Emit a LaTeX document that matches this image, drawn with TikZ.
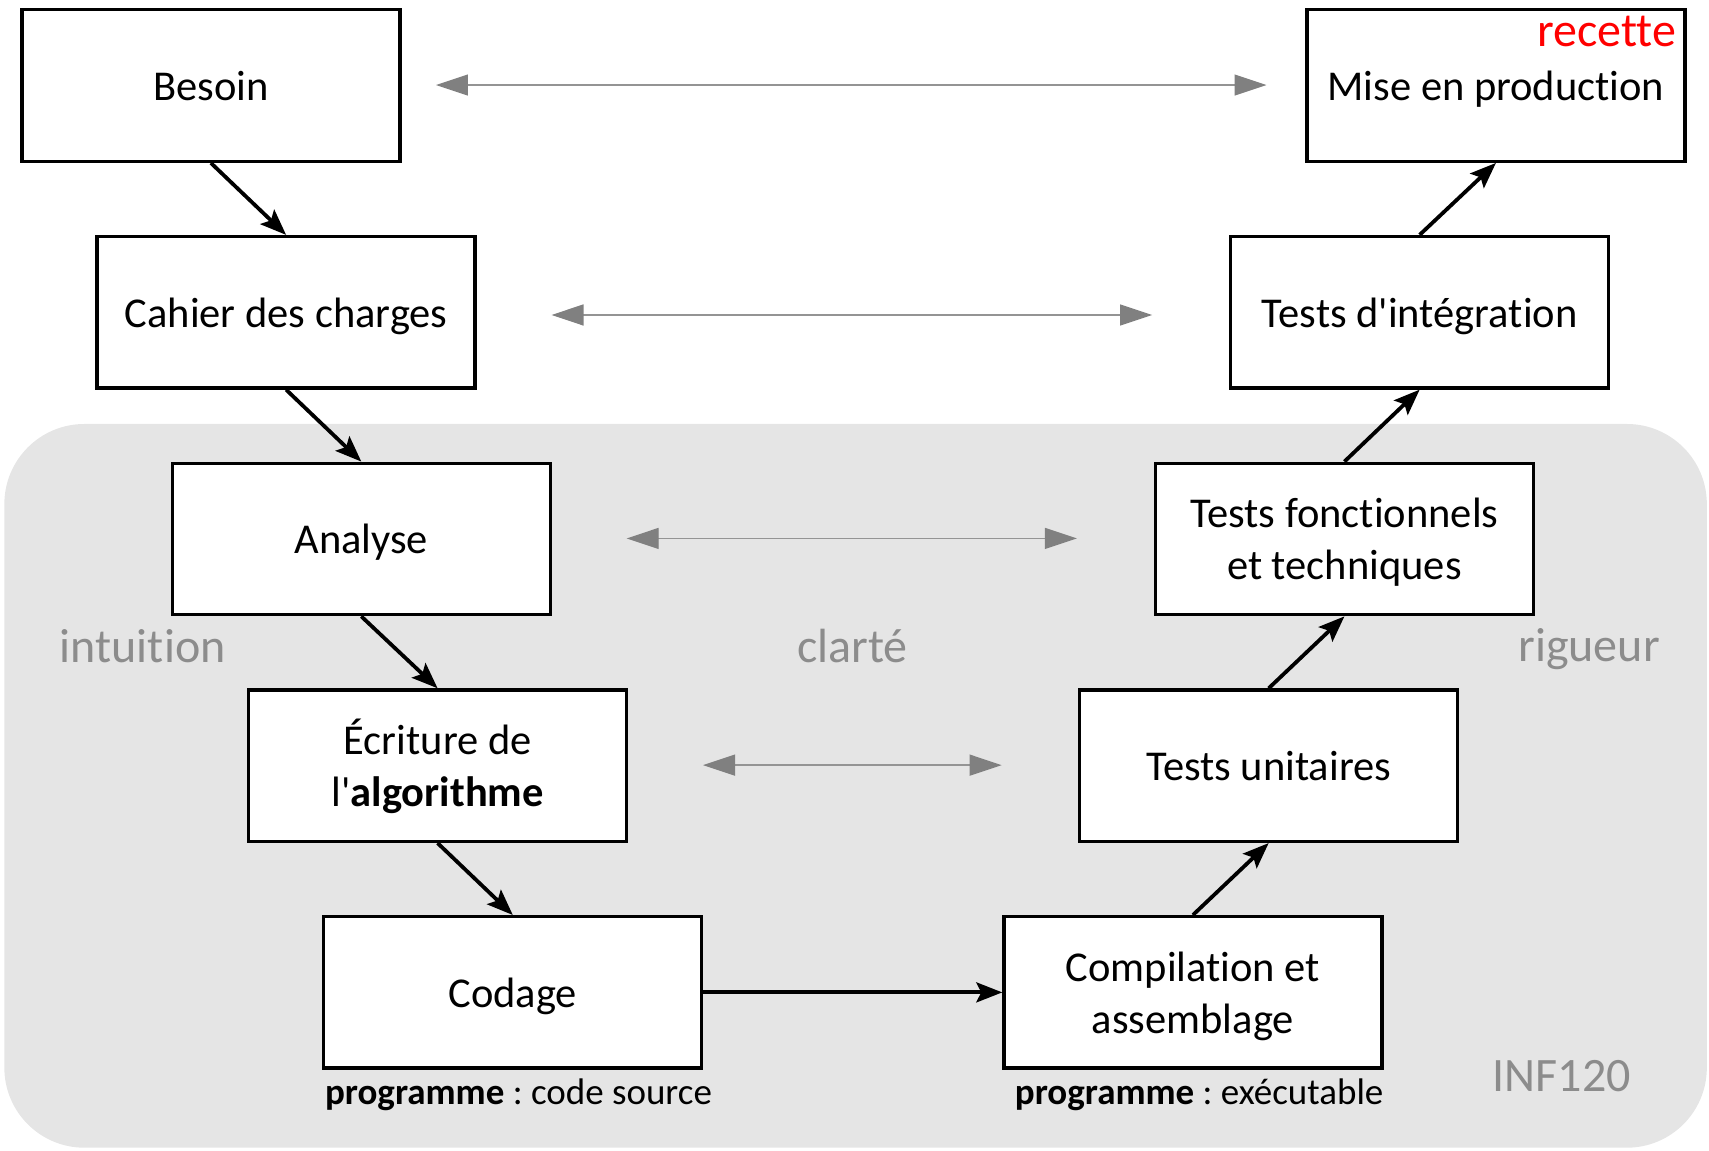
\documentclass[tikz,border=0pt]{standalone}
\usepackage{fontspec}
\setmainfont{Carlito}[Ligatures={TeX,NoCommon}]
\usetikzlibrary{arrows.meta,positioning}
\frenchspacing
\begin{document}
\begin{tikzpicture}[x=1.09pt,y=-1.09pt,
  stagebox/.style={draw=black,line width=3.3pt,fill=white,minimum width=378pt,minimum height=151.5pt,
    align=center,font=\fontsize{42.5}{52}\selectfont,inner sep=0pt,text height=30pt,text depth=0pt},
  twoline/.style={text height=82pt,text depth=0pt},
  flow/.style={line width=3.8pt,-{Stealth[length=26pt,width=20pt,inset=5pt]}},
  link/.style={draw=black!42,line width=1.3pt,{Triangle[length=32pt,width=21pt,color=black!50]}-{Triangle[length=32pt,width=21pt,color=black!50]}},
  graylabel/.style={text=black!45,font=\fontsize{48}{56}\selectfont},
  sublabel/.style={anchor=west,font=\fontsize{37}{44}\selectfont,inner sep=0pt}
]
\useasboundingbox (0,0) rectangle (1568,1056);
\fill[black!10,rounded corners=80pt] (4,389) rectangle (1566,1053);

\node[stagebox] (besoin) at (193.5,78.5) {Besoin};
\node[stagebox] (cahier) at (262.5,286.5) {Cahier des charges};
\node[stagebox] (analyse) at (331.5,494.5) {Analyse};
\node[stagebox,twoline] (ecriture) at (401.5,702.5) {Écriture de\\l\textquotesingle\textbf{algorithme}};
\node[stagebox] (codage) at (470.5,910.5) {Codage};
\node[stagebox,twoline] (compil) at (1094.5,910.5) {Compilation et\\assemblage};
\node[stagebox] (unit) at (1164,702.5) {Tests unitaires};
\node[stagebox,twoline] (fonc) at (1233.5,494.5) {Tests fonctionnels\\et techniques};
\node[stagebox] (integ) at (1302.5,286.5) {Tests d\textquotesingle intégration};
\node[stagebox] (mise) at (1372.5,78.5) {Mise en production};
\node[anchor=north east,inner sep=0pt,text=red,font=\fontsize{48}{56}\selectfont] (recette) at (1538,15) {recette};

\draw[flow] (besoin.south) -- (cahier.north);
\draw[flow] (cahier.south) -- (analyse.north);
\draw[flow] (analyse.south) -- (ecriture.north);
\draw[flow] (ecriture.south) -- (codage.north);
\draw[flow] (codage.east) -- (compil.west);
\draw[flow] (compil.north) -- (unit.south);
\draw[flow] (unit.north) -- (fonc.south);
\draw[flow] (fonc.north) -- (integ.south);
\draw[flow] (integ.north) -- (mise.south);

\coordinate (l1a) at (400,78);  \coordinate (l1b) at (1162,78);
\coordinate (l2a) at (506,289); \coordinate (l2b) at (1057,289);
\coordinate (l3a) at (575,494); \coordinate (l3b) at (988,494);
\coordinate (l4a) at (645,702); \coordinate (l4b) at (919,702);
\draw[link] (l1a) -- (l1b);
\draw[link] (l2a) -- (l2b);
\draw[link] (l3a) -- (l3b);
\draw[link] (l4a) -- (l4b);

\node[graylabel] (intuition) at (131,593) {intuition};
\node[graylabel] (clarte) at (782,593) {clarté};
\node[graylabel] (rigueur) at (1458,596) {rigueur};
\node[graylabel] (inf) at (1433,987) {INF120};

\node[sublabel] (prog1) at (298,1004) {\textbf{programme} : code source};
\node[sublabel] (prog2) at (931,1004) {\textbf{programme} : exécutable};
\end{tikzpicture}
\end{document}
